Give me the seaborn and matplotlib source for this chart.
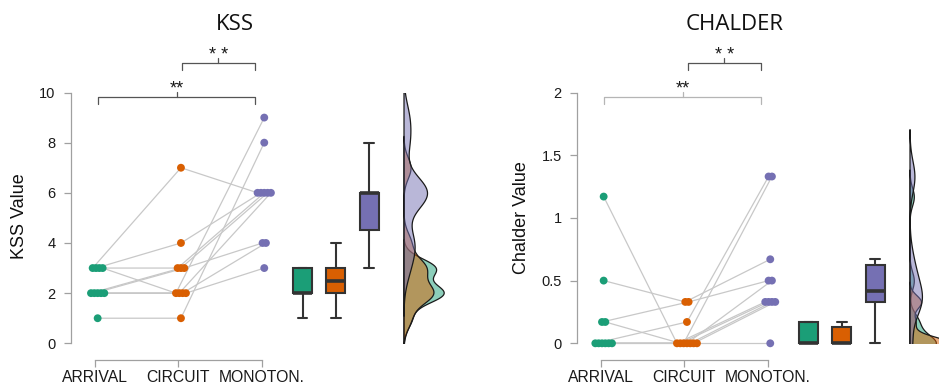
import numpy as np
import pandas as pd
import matplotlib
matplotlib.use('Agg')
import matplotlib.pyplot as plt
import seaborn as sns

sns.set_theme(style='white')
plt.rcParams['font.family'] = ['Liberation Sans', 'DejaVu Sans']

conditions = ['ARRIVAL', 'CIRCUIT', 'MONOTON.']
palette = ['#1b9e77', '#d95f02', '#7570b3']

# one value per subject, subjects in the same order in every condition
kss_arrival = [3, 3, 3, 3, 2, 2, 2, 2, 2, 1]
kss_circuit = [7, 4, 3, 2, 3, 3, 2, 2, 2, 1]
kss_monoton = [6, 6, 6, 9, 6, 4, 6, 4, 3, 8]

chalder_arrival = [1.17, 0.5, 0.17, 0.17, 0, 0, 0, 0, 0, 0]
chalder_circuit = [0, 0.33, 0.33, 0, 0.17, 0, 0, 0, 0, 0]
chalder_monoton = [0.33, 0.67, 0.5, 0.33, 1.33, 1.33, 0.5, 0.33, 0.33, 0]

kss_ticks = [0, 2, 4, 6, 8, 10]
kss_ticklabels = ['0', '2', '4', '6', '8', '10']
chalder_ticks = [0, 0.5, 1, 1.5, 2]
chalder_ticklabels = ['0', '0.5', '1', '1.5', '2']

# significance brackets: (from, to, label)
kss_brackets = [(0, 2, '**'), (1, 2, '* *')]
chalder_brackets = [(0, 2, '**'), (1, 2, '* *')]

W, H = 939, 383
fig = plt.figure(figsize=(W / 100, H / 100), dpi=100)

box_pos = [2.49, 2.89, 3.29]
XMIN, XMAX = -0.29, 3.68
PX_UNIT = 83.3
AX_W = (XMAX - XMIN) * PX_UNIT
Y0_PX, YTOP_PX = 343.3, 92.5


def long_frame(series):
    rows = []
    for cond, vals in zip(conditions, series):
        for subj, v in enumerate(vals):
            rows.append({'subject': subj, 'cond': cond, 'value': v})
    df = pd.DataFrame(rows)
    # spread tied values a little sideways
    df['rank'] = df.groupby(['cond', 'value']).cumcount()
    df['ties'] = df.groupby(['cond', 'value'])['value'].transform('size')
    ci = df['cond'].map({c: i for i, c in enumerate(conditions)})
    df['x'] = ci + 0.03 + (df['rank'] - (df['ties'] - 1) / 2) * 0.04
    df['bpos'] = ci.map(dict(enumerate(box_pos)))
    return df


def nrd0_adjust(v):
    v = np.asarray(v, dtype=float)
    sd = v.std(ddof=1)
    q75, q25 = np.percentile(v, [75, 25])
    lo = min(sd, (q75 - q25) / 1.34)
    return 0.9 * lo / sd


def draw_panel(left_px, series, ytop, ticks, ticklabels, ylabel, ylabel_xy,
               title, title_x, brackets, bracket_cols):
    df = long_frame(series)
    rect = [left_px / W, (H - Y0_PX) / H, AX_W / W, (Y0_PX - YTOP_PX) / H]
    ax = fig.add_axes(rect)

    for _, sub in df.groupby('subject'):
        ax.plot(sub['x'], sub['value'], color='#c8c8c8', lw=0.9, zorder=1,
                clip_on=False)
    sns.scatterplot(data=df, x='x', y='value', hue='cond', palette=palette,
                    s=32, linewidth=0, legend=False, zorder=3, clip_on=False,
                    ax=ax)
    sns.boxplot(data=df, x='bpos', y='value', hue='cond', palette=palette,
                native_scale=True, dodge=False, width=0.57, showfliers=False,
                saturation=1, linecolor='#333333', linewidth=1.5,
                medianprops={'linewidth': 2.6}, legend=False, ax=ax)
    for art in ax.patches + ax.lines:
        art.set_clip_on(False)

    ax.set_xlim(XMIN, XMAX)
    ax.set_ylim(0, ytop)
    ax.set_xticks([0, 1, 2])
    ax.set_xticklabels(conditions)
    ax.set_yticks(ticks)
    ax.set_yticklabels(ticklabels)
    ax.set_xlabel('')
    ax.set_ylabel('')
    for s in ['top', 'right']:
        ax.spines[s].set_visible(False)
    ax.spines['left'].set_bounds(0, ytop)
    ax.spines['bottom'].set_bounds(0, 2)
    ax.spines['bottom'].set_position(('outward', 12))
    for s in ['left', 'bottom']:
        ax.spines[s].set_color('#a0a0a0')
        ax.spines[s].set_linewidth(0.9)
    ax.tick_params(axis='both', direction='out', length=5, width=0.9,
                   color='#a0a0a0', labelcolor='#1a1a1a',
                   bottom=True, left=True)
    ax.tick_params(axis='y', labelsize=10.5, pad=6)
    ax.tick_params(axis='x', labelsize=11.3, pad=2)

    # rain-cloud densities on the right
    dleft = left_px + AX_W + 1
    axd = fig.add_axes([dleft / W, rect[1], 43 / W, rect[3]])
    for cond, c in zip(conditions, palette):
        v = df.loc[df['cond'] == cond, 'value']
        sns.kdeplot(y=v, ax=axd, fill=True, color=c, alpha=0.5,
                    edgecolor='#1a1a1a', linewidth=0.9,
                    bw_adjust=nrd0_adjust(v))
    xmax = axd.dataLim.x1
    axd.set_xlim(-0.02 * xmax, xmax * 1.05)
    axd.set_ylim(0, ytop)
    axd.axis('off')

    # brackets
    unit = (Y0_PX - YTOP_PX) / ytop
    levels = [(Y0_PX - 96.5) / unit, (Y0_PX - 63.3) / unit]
    for (a, b, lab), lev, col in zip(brackets, levels, bracket_cols):
        x0, x1 = a + 0.04, b - 0.08
        drop = 7 / unit
        xc = (x0 + x1) / 2
        ax.plot([x0, x0, x1, x1], [lev - drop, lev, lev, lev - drop],
                color=col, lw=0.9, clip_on=False)
        ax.plot([xc, xc], [lev, lev + 5 / unit], color=col, lw=0.9,
                clip_on=False)
        ax.text(xc, lev - 1 / unit, lab, ha='center', va='bottom',
                fontsize=13, color='#1a1a1a', clip_on=False)

    fig.text(title_x / W, 1 - 25 / H, title, ha='center', va='center',
             fontsize=16, family=['Open Sans', 'DejaVu Sans'], color='#111111')
    fig.text(ylabel_xy[0] / W, 1 - ylabel_xy[1] / H, ylabel, rotation=90,
             ha='center', va='center', fontsize=13, color='#111111')


draw_panel(71, [kss_arrival, kss_circuit, kss_monoton], 10, kss_ticks,
           kss_ticklabels, 'KSS Value', (19, 216), 'KSS', 235,
           kss_brackets, ['#555555', '#555555'])
draw_panel(577, [chalder_arrival, chalder_circuit, chalder_monoton], 2,
           chalder_ticks, chalder_ticklabels, 'Chalder Value', (521, 218),
           'CHALDER', 735, chalder_brackets, ['#b5b5b5', '#555555'])

fig.savefig('out.png', dpi=100)
